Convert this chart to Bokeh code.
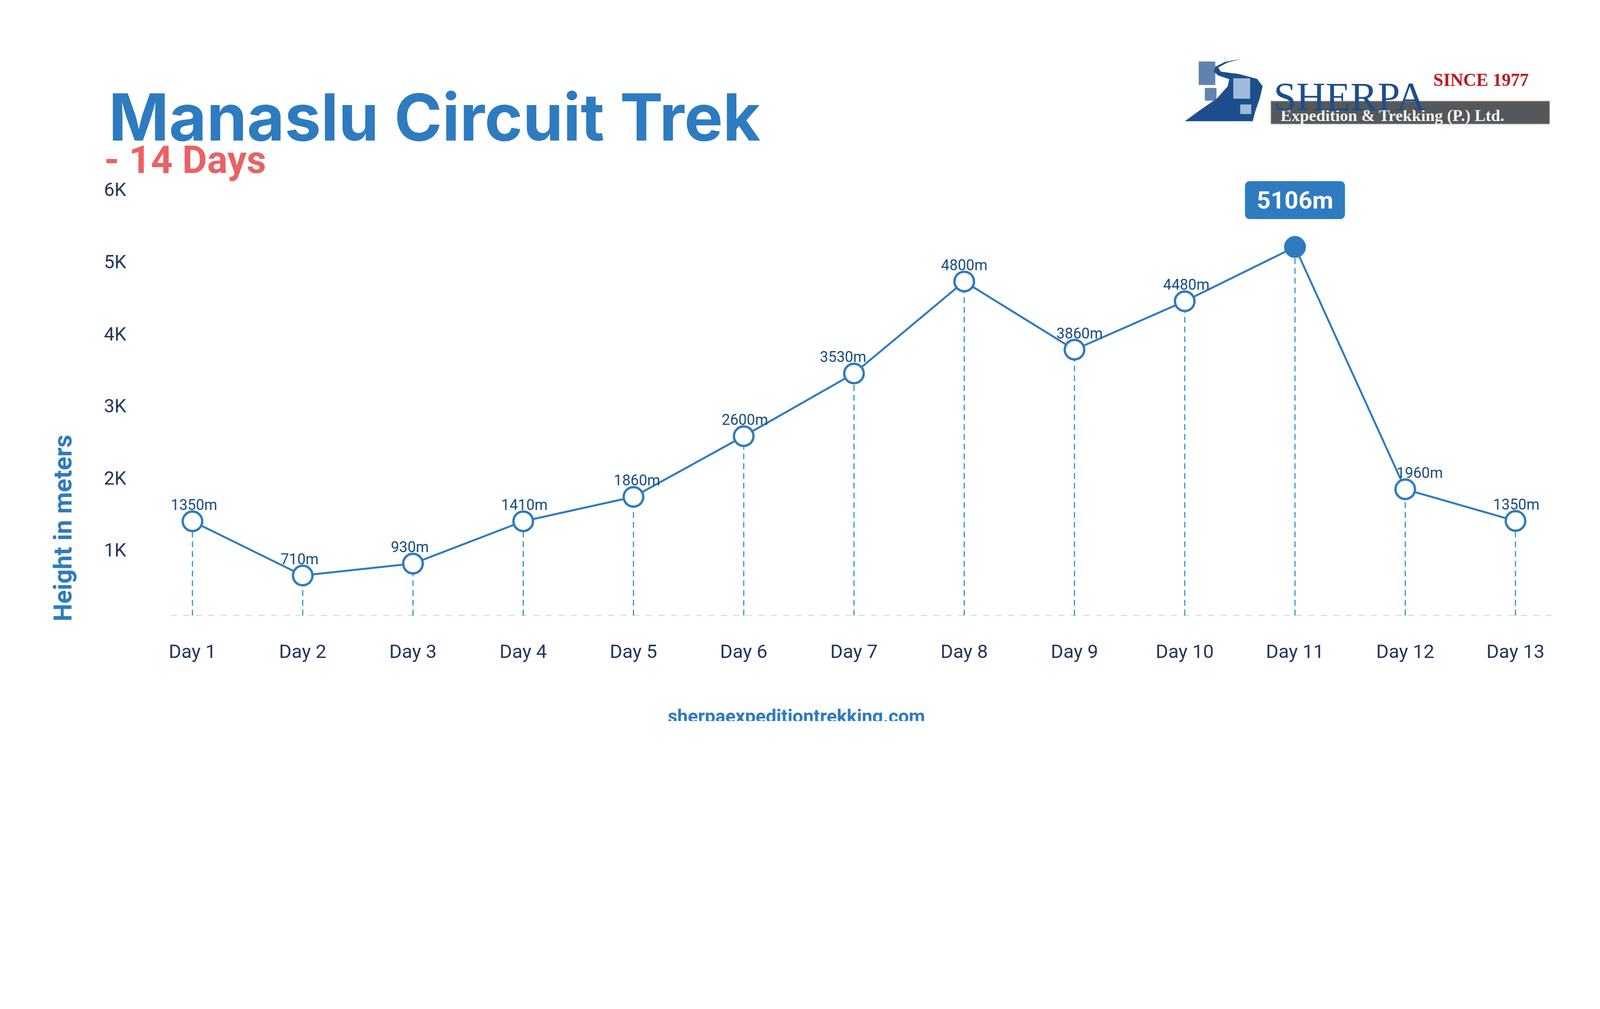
import numpy as np
from bokeh.plotting import figure
from bokeh.models import Range1d, FixedTicker, Label, ColumnDataSource
from bokeh.core.properties import value
from bokeh.embed import file_html
from bokeh.resources import INLINE

# ---------------- data ----------------
days = ["Day 1", "Day 2", "Day 3", "Day 4", "Day 5", "Day 6", "Day 7",
        "Day 8", "Day 9", "Day 10", "Day 11", "Day 12", "Day 13"]
elevation = [1400, 648, 813, 1400, 1739, 2581, 3451, 4727, 3781, 4453, 5206, 1844, 1405]
point_labels = ["1350m", "710m", "930m", "1410m", "1860m", "2600m", "3530m",
                "4800m", "3860m", "4480m", "5106m", "1960m", "1350m"]
y_ticks = [1000, 2000, 3000, 4000, 5000, 6000]
y_tick_labels = ["1K", "2K", "3K", "4K", "5K", "6K"]

title_text = "Manaslu Circuit Trek"
subtitle_text = "- 14 Days"
y_title = "Height in meters"
footer_text = "sherpaexpeditiontrekking.com"

# ---------------- geometry (reference px -> CSS px) ----------------
K = 5511 / 4096.0
def S(v):
    return v / K
def fs(v):
    return f"{int(round(S(v)))}px"

W, H = 4080, 1904
MB_BOTTOM = 58
FRAME_L, FRAME_R, FRAME_T, FRAME_B = 8, 4008, 8, 8 + H - MB_BOTTOM   # page CSS px
X0, DX = S(673), S(379.75)        # page x of Day 1, spacing per day
Z0, PM = S(2154), S(0.24835)      # page y of 0 m, px per metre
def x_of(page_x): return (page_x - X0) / DX
def y_of(page_y): return (Z0 - page_y) / PM
def gx(ref): return x_of(S(ref))          # reference px -> data coords
def gy(ref): return y_of(S(ref))

BASE = 93
X_LO, X_HI = gx(598), gx(5361)

BLUE = "#2E7BC0"
DROP = "#2B9BC3"
NAVY = "#22385E"
LBL = "#1B4D7E"
RED = "#EA6265"
label_dx = [5, -11, -11, 4, 12, 4, -38, 0, 17, 5, 0, 50, 3]

p = figure(width=W, height=H, output_backend="svg", toolbar_location=None,
           x_range=Range1d(x_of(FRAME_L), x_of(FRAME_R)),
           y_range=Range1d(y_of(FRAME_B), y_of(FRAME_T)),
           y_axis_location="right",
           min_border_left=0, min_border_right=(8 + W) - FRAME_R,
           min_border_top=0, min_border_bottom=MB_BOTTOM)
p.title.visible = False
p.outline_line_color = None
p.xgrid.visible = False
p.ygrid.visible = False
p.background_fill_color = "white"
p.border_fill_color = "white"

idx = list(range(len(days)))
peak = int(np.argmax(elevation))

# x axis (category labels), drawn just under the baseline
p.xaxis.ticker = FixedTicker(ticks=idx)
p.xaxis.major_label_overrides = {i: d for i, d in zip(idx, days)}
p.xaxis.fixed_location = gy(2131 + 78)
p.xaxis.axis_line_color = None
p.xaxis.major_tick_line_color = None
p.xaxis.minor_tick_line_color = None
p.xaxis.major_label_text_font = "Roboto"
p.xaxis.major_label_text_font_size = fs(66)
p.xaxis.major_label_text_color = NAVY
p.xaxis.major_label_standoff = 0

# y axis, labels at the left of the chart
p.yaxis.ticker = FixedTicker(ticks=y_ticks)
p.yaxis.major_label_overrides = {t: l for t, l in zip(y_ticks, y_tick_labels)}
p.yaxis.fixed_location = gx(360)
p.yaxis.axis_line_color = None
p.yaxis.major_tick_line_color = None
p.yaxis.minor_tick_line_color = None
p.yaxis.major_label_text_font = "Roboto"
p.yaxis.major_label_text_font_size = fs(64)
p.yaxis.major_label_text_color = NAVY
p.yaxis.major_label_standoff = 0

# ---------------- logo shapes ----------------
road = [(4287, 213), (4239, 225), (4206, 243), (4215, 257), (4277, 265), (4340, 282),
        (4359, 307), (4349, 350), (4335, 390), (4325, 428), (4091, 428), (4143, 390),
        (4201, 350), (4239, 307), (4244, 283), (4206, 270), (4191, 257), (4196, 240),
        (4230, 223)]
p.patch([gx(a) for a, b in road], [gy(b) for a, b in road],
        fill_color="#1D4F8C", line_color=None)
prints = [(4139, 4196, 222, 303, "#1D4F8C", 0.7),
          (4160, 4200, 313, 357, "#1D4F8C", 0.7),
          (4258, 4316, 280, 350, "#BFD7EE", 0.8),
          (4282, 4320, 370, 403, "#BFD7EE", 0.8)]
p.quad(left=[gx(l) for l, r, t, b, c, a in prints],
       right=[gx(r) for l, r, t, b, c, a in prints],
       top=[gy(t) for l, r, t, b, c, a in prints],
       bottom=[gy(b) for l, r, t, b, c, a in prints],
       fill_color=[c for *_, c, a in prints], fill_alpha=[a for *_, a in prints],
       line_color=None)
p.quad(left=[gx(4388)], right=[gx(5347)], top=[gy(359)], bottom=[gy(437)],
       fill_color="#54585B", line_color="#8A8E90", line_width=2)

# ---------------- chart ----------------
p.segment(x0=[X_LO], y0=[BASE], x1=[X_HI], y1=[BASE],
          line_color="#DDDDDD", line_width=3, line_dash="16 16")
p.segment(x0=idx, y0=[BASE] * len(idx), x1=idx, y1=elevation,
          line_color=DROP, line_width=3, line_dash="15 10")
p.line(idx, elevation, line_color=BLUE, line_width=5)
fills = [BLUE if i == peak else "white" for i in idx]
p.scatter(idx, elevation, size=50, fill_color=fills, line_color=BLUE, line_width=6)

src = ColumnDataSource(dict(
    x=[i for i in idx if i != peak],
    y=[elevation[i] for i in idx if i != peak],
    t=[point_labels[i] for i in idx if i != peak],
    dx=[round(S(label_dx[i])) for i in idx if i != peak],
))
p.text(x="x", y="y", text="t", source=src, x_offset="dx", y_offset=-42,
       text_align="center", text_baseline="alphabetic",
       text_font=value("Roboto"), text_font_size=fs(51), text_color=LBL)

# peak badge
p.add_layout(Label(x=peak, y=elevation[peak], text=point_labels[peak], y_offset=120,
                   text_align="center", text_baseline="middle",
                   text_font="Roboto", text_font_style="bold", text_font_size=fs(84),
                   text_color="white", background_fill_color=BLUE,
                   border_radius=12, padding=dict(left=30, right=30, top=12, bottom=12)))

# ---------------- other texts (painted last) ----------------
def put(xr, yr, txt, font, size, color, style="normal", align="left", angle=0.0):
    p.add_layout(Label(x=gx(xr), y=gy(yr), text=txt, angle=angle, text_font=font,
                       text_font_size=size, text_font_style=style, text_color=color,
                       text_align=align, text_baseline="alphabetic"))

put(384, 413, title_text, "Inter", fs(224), BLUE, "bold")
put(227, 2151, y_title, "Roboto", fs(86), BLUE, "bold", angle=np.pi / 2)
put(2753, 2478, footer_text, "Roboto", fs(64), BLUE, "bold", align="center")
put(4421, 408, "Expedition & Trekking (P.) Ltd.", "Liberation Serif", fs(56),
    "#F2F2F2", "bold")
put(4947, 285, "SINCE 1977", "Liberation Serif", fs(62), "#C4161C", "bold")
put(4397, 343, "SHERPA", "Liberation Serif", fs(140), "#1C4E8B")
put(369, 561, subtitle_text, "Roboto", "98px", RED, "bold")

open("out.html", "w").write(file_html(p, INLINE))
